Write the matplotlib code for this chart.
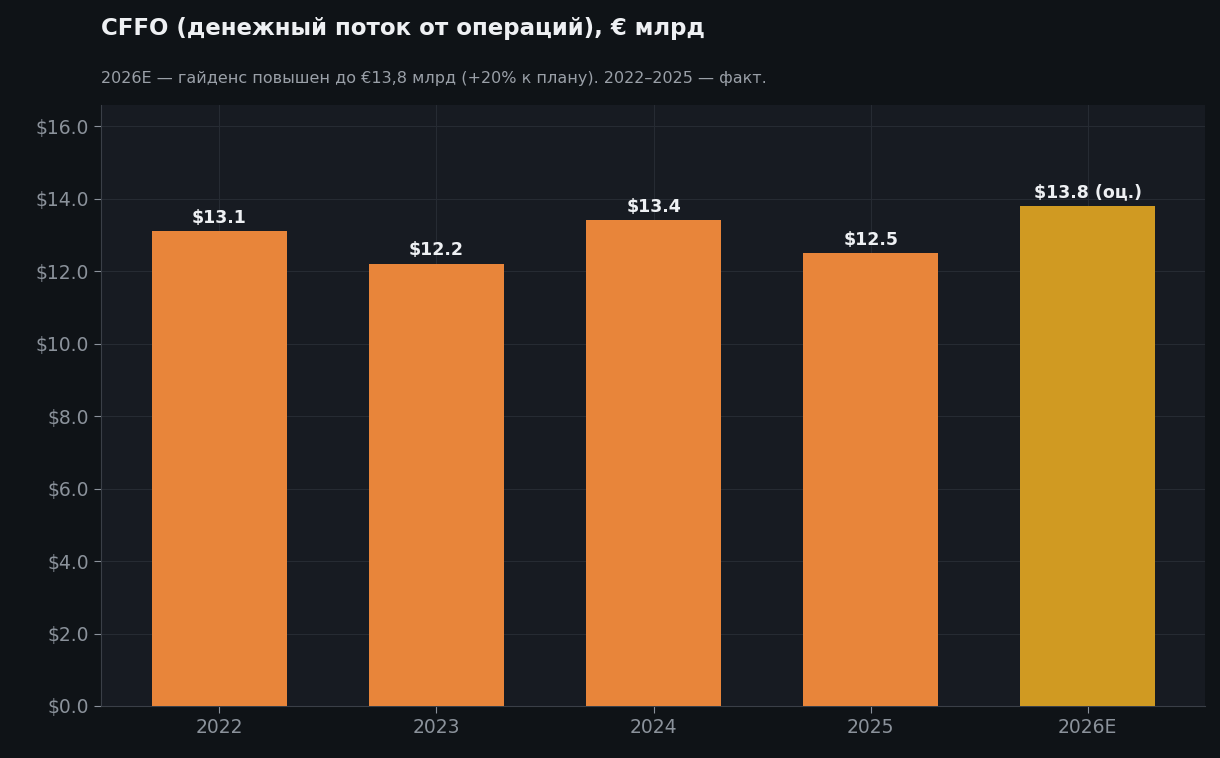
import matplotlib
matplotlib.use("Agg")
from matplotlib import pyplot as plt

years = ["2022", "2023", "2024", "2025", "2026E"]
cffo = [13.1, 12.2, 13.4, 12.5, 13.8]
labels = ["$13.1", "$12.2", "$13.4", "$12.5", "$13.8 (оц.)"]
colors = ["#e8853a"] * 4 + ["#d09a22"]

fig = plt.figure(figsize=(12.2, 7.58), dpi=100, facecolor="#0f1317")
ax = fig.add_axes([101 / 1220, 52 / 758, 1104 / 1220, 601 / 758])
ax.set_facecolor("#171b22")

x = range(len(years))
ax.bar(x, cffo, width=0.62, color=colors, zorder=3)
for i, (v, t) in enumerate(zip(cffo, labels)):
    ax.text(i, v + 0.12, t, ha="center", va="bottom", color="#eef0f3",
            fontsize=12.5, fontweight="bold", zorder=4)

ax.set_xlim(-0.545, 4.54)
ax.set_ylim(0, 16.58)
ax.set_yticks([0, 2, 4, 6, 8, 10, 12, 14, 16])
ax.set_yticklabels([f"${v:.1f}" for v in range(0, 17, 2)])
ax.set_xticks(list(x))
ax.set_xticklabels(years)
ax.tick_params(colors="#8b929b", labelsize=13.5, length=5)
ax.grid(True, color="#262b33", lw=0.8, zorder=0)
for s in ("top", "right"):
    ax.spines[s].set_visible(False)
for s in ("left", "bottom"):
    ax.spines[s].set_color("#3a3f47")

fig.text(101 / 1220, 1 - 28 / 758, "CFFO (денежный поток от операций), € млрд",
         color="#eef0f3", fontsize=16.5, fontweight="bold", va="center")
fig.text(101 / 1220, 1 - 78 / 758,
         "2026E — гайденс повышен до €13,8 млрд (+20% к плану). 2022–2025 — факт.",
         color="#9aa0a8", fontsize=11.5, va="center")

fig.savefig("out.png", dpi=100, facecolor=fig.get_facecolor())
